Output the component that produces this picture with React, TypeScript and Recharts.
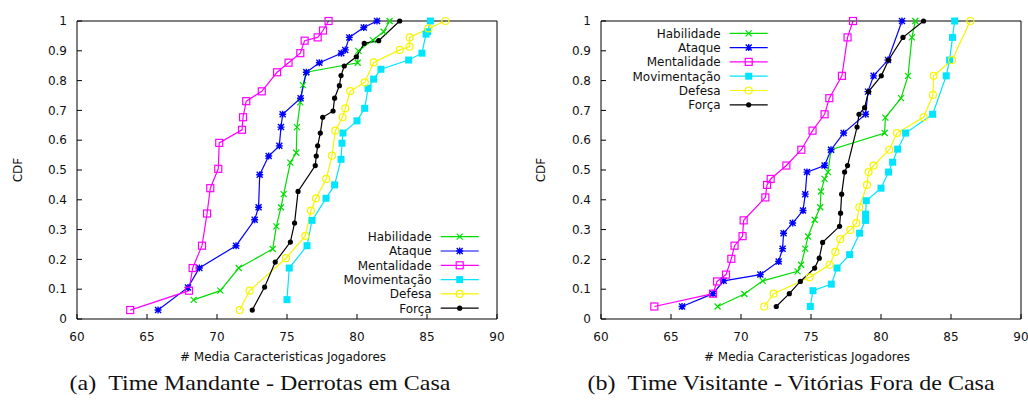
import React from "react";
import { LineChart, Line, XAxis, YAxis } from "recharts";

// ---- data ----
const xTicks = [60, 65, 70, 75, 80, 85, 90];
const yTicks = [0, 0.1, 0.2, 0.3, 0.4, 0.5, 0.6, 0.7, 0.8, 0.9, 1];
const seriesNames = ["Habilidade", "Ataque", "Mentalidade", "Movimentação", "Defesa", "Força"];
const xLabel = "# Media Caracteristicas Jogadores";
const yLabel = "CDF";
const captions = ["(a)\u00a0\u00a0Time Mandante - Derrotas em Casa", "(b)\u00a0\u00a0Time Visitante - Vitórias Fora de Casa"];

// (a) home team, home losses: [media, cdf]
const habilidadeA = [[68.33, 0.064], [70.24, 0.095], [71.55, 0.171], [73.98, 0.235], [74.24, 0.311], [74.57, 0.375], [74.76, 0.419], [75.24, 0.525], [75.66, 0.558], [75.71, 0.644], [75.95, 0.727], [76.14, 0.785], [76.38, 0.828], [80.05, 0.86], [80.1, 0.9], [81.14, 0.936], [81.9, 0.964], [82.33, 1.0]];
const ataqueA = [[65.79, 0.03], [67.93, 0.106], [68.74, 0.171], [71.36, 0.246], [72.69, 0.333], [72.97, 0.375], [73.05, 0.484], [73.69, 0.547], [74.45, 0.581], [74.57, 0.644], [74.69, 0.687], [75.97, 0.741], [76.38, 0.828], [77.31, 0.86], [78.88, 0.892], [79.16, 0.903], [79.45, 0.945], [80.48, 0.978], [81.43, 1.0]];
const mentalidadeA = [[63.8, 0.03], [68.0, 0.095], [68.26, 0.171], [68.93, 0.246], [69.29, 0.354], [69.52, 0.439], [70.09, 0.504], [70.16, 0.591], [71.79, 0.635], [71.86, 0.677], [72.09, 0.731], [73.2, 0.764], [74.29, 0.828], [75.11, 0.86], [75.95, 0.892], [76.26, 0.934], [77.19, 0.945], [77.57, 0.968], [77.97, 1.0]];
const movimentacaoA = [[75.0, 0.065], [75.16, 0.171], [76.43, 0.246], [76.79, 0.331], [77.79, 0.405], [78.4, 0.45], [78.86, 0.536], [78.93, 0.59], [79.0, 0.624], [80.0, 0.665], [80.55, 0.707], [80.79, 0.774], [81.19, 0.805], [81.71, 0.838], [83.69, 0.869], [84.64, 0.892], [84.93, 0.956], [85.05, 0.964], [85.24, 1.0]];
const defesaA = [[71.62, 0.03], [72.33, 0.095], [74.93, 0.204], [76.31, 0.279], [76.71, 0.364], [77.07, 0.405], [77.81, 0.47], [78.21, 0.548], [78.45, 0.632], [78.97, 0.677], [79.16, 0.707], [79.52, 0.765], [80.55, 0.794], [81.19, 0.861], [83.05, 0.903], [83.76, 0.914], [83.76, 0.945], [85.11, 0.975], [86.31, 1.0]];
const forcaA = [[72.52, 0.03], [73.4, 0.107], [74.16, 0.191], [75.24, 0.258], [75.54, 0.322], [75.79, 0.428], [77.02, 0.515], [77.09, 0.547], [77.19, 0.581], [77.38, 0.624], [77.55, 0.677], [78.29, 0.698], [78.4, 0.741], [78.74, 0.783], [78.86, 0.817], [79.09, 0.849], [79.95, 0.88], [80.52, 0.925], [81.55, 0.934], [83.05, 1.0]];

// (b) away team, away wins
const habilidadeB = [[68.33, 0.042], [70.24, 0.084], [71.55, 0.128], [74.04, 0.16], [74.29, 0.182], [74.59, 0.236], [74.79, 0.277], [75.26, 0.333], [75.66, 0.375], [75.71, 0.428], [75.97, 0.47], [76.21, 0.493], [76.43, 0.568], [80.26, 0.624], [80.31, 0.676], [81.43, 0.741], [81.93, 0.816], [82.21, 0.945], [82.45, 1.0]];
const ataqueB = [[65.79, 0.042], [68.0, 0.085], [68.76, 0.128], [71.38, 0.149], [72.69, 0.193], [72.97, 0.236], [73.04, 0.288], [73.69, 0.322], [74.43, 0.364], [74.59, 0.419], [74.71, 0.493], [75.97, 0.515], [76.43, 0.568], [77.33, 0.624], [78.9, 0.687], [79.07, 0.763], [79.47, 0.816], [80.5, 0.869], [81.5, 1.0]];
const mentalidadeB = [[63.81, 0.042], [68.0, 0.085], [68.29, 0.126], [68.93, 0.149], [69.31, 0.202], [69.54, 0.246], [70.11, 0.278], [70.19, 0.331], [71.74, 0.408], [71.86, 0.45], [72.12, 0.47], [73.24, 0.515], [74.31, 0.568], [75.11, 0.632], [75.97, 0.687], [76.31, 0.741], [77.21, 0.816], [77.61, 0.945], [78.0, 1.0]];
const movimentacaoB = [[74.95, 0.042], [75.14, 0.095], [76.45, 0.117], [76.86, 0.171], [77.76, 0.216], [78.47, 0.288], [78.9, 0.331], [78.9, 0.352], [78.95, 0.397], [80.0, 0.439], [80.54, 0.493], [80.83, 0.526], [81.19, 0.57], [81.76, 0.624], [83.69, 0.687], [84.66, 0.816], [84.9, 0.869], [85.11, 0.945], [85.26, 1.0]];
const defesaB = [[71.66, 0.042], [72.33, 0.085], [74.9, 0.14], [76.33, 0.182], [76.74, 0.225], [77.09, 0.268], [77.81, 0.299], [78.24, 0.322], [78.45, 0.375], [79.0, 0.45], [79.11, 0.493], [79.47, 0.515], [80.59, 0.568], [81.14, 0.624], [83.04, 0.677], [83.71, 0.752], [83.76, 0.816], [85.07, 0.869], [86.38, 1.0]];
const forcaB = [[72.52, 0.042], [73.45, 0.085], [74.24, 0.126], [75.26, 0.171], [75.59, 0.204], [75.83, 0.257], [77.04, 0.311], [77.11, 0.355], [77.19, 0.419], [77.4, 0.493], [77.61, 0.515], [78.29, 0.644], [78.43, 0.687], [78.83, 0.709], [79.11, 0.763], [80.02, 0.816], [80.54, 0.869], [81.57, 0.945], [83.04, 1.0]];

const panelA = [habilidadeA, ataqueA, mentalidadeA, movimentacaoA, defesaA, forcaA];
const panelB = [habilidadeB, ataqueB, mentalidadeB, movimentacaoB, defesaB, forcaB];

// ---- styles ----
const colors = ["#00dd00", "#0000ff", "#ff00ff", "#00e5ff", "#f5f500", "#000000"];
const shapes = ["cross", "star", "square", "filledSquare", "circle", "dot"];
const sans = "DejaVu Sans";
const tickStyle = { fill: "#111", fontSize: 12, fontFamily: sans };

function Marker({ shape, color, cx, cy }: any) {
  if (cx == null || cy == null) return null;
  const s = 3;
  switch (shape) {
    case "cross":
      return <path d={`M${cx - s},${cy - s}L${cx + s},${cy + s}M${cx - s},${cy + s}L${cx + s},${cy - s}`} stroke={color} strokeWidth={1.2} fill="none" />;
    case "star":
      return (
        <path
          d={`M${cx - s},${cy - s}L${cx + s},${cy + s}M${cx - s},${cy + s}L${cx + s},${cy - s}M${cx - 3.5},${cy}L${cx + 3.5},${cy}M${cx},${cy - 3.5}L${cx},${cy + 3.5}`}
          stroke={color}
          strokeWidth={1.4}
          fill="none"
        />
      );
    case "square":
      return <rect x={cx - 3.5} y={cy - 3.5} width={7} height={7} fill="none" stroke={color} strokeWidth={1.2} />;
    case "filledSquare":
      return <rect x={cx - 3.5} y={cy - 3.5} width={7} height={7} fill={color} stroke="none" />;
    case "circle":
      return <circle cx={cx} cy={cy} r={3.5} fill="none" stroke={color} strokeWidth={1.2} />;
    default:
      return <circle cx={cx} cy={cy} r={2.6} fill={color} />;
  }
}

const makeDot = (shape: string, color: string) => (p: any) => (
  <Marker key={p.key ?? p.index} shape={shape} color={color} cx={p.cx} cy={p.cy} />
);

function CdfPanel({ series, width, yAxisWidth, marginRight, yLabelX }: any) {
  const height = 368;
  return (
    <LineChart width={width} height={height} margin={{ top: 20, right: marginRight, bottom: 0, left: 0 }}>
      <XAxis
        type="number"
        dataKey="x"
        domain={[60, 90]}
        ticks={xTicks}
        allowDataOverflow
        height={49}
        stroke="#000"
        tickSize={-5}
        tickMargin={18}
        tick={tickStyle}
        label={(p: any) => {
          const vb = p.viewBox;
          return (
            <text x={vb.x + vb.width / 2 - 4} y={vb.y + 42} textAnchor="middle" fontFamily={sans} fontSize={12} fill="#111">
              {xLabel}
            </text>
          );
        }}
      />
      <XAxis xAxisId="top" orientation="top" type="number" dataKey="x" domain={[60, 90]} ticks={xTicks} height={1} stroke="#000" tickSize={-5} tick={false} />
      <YAxis
        type="number"
        domain={[0, 1]}
        ticks={yTicks}
        width={yAxisWidth}
        stroke="#000"
        tickSize={-5}
        tickMargin={15}
        tick={tickStyle}
        label={(p: any) => {
          const vb = p.viewBox;
          const cy = vb.y + vb.height / 2;
          return (
            <text x={yLabelX} y={cy} transform={`rotate(-90, ${yLabelX}, ${cy})`} textAnchor="middle" fontFamily={sans} fontSize={12} fill="#111">
              {yLabel}
            </text>
          );
        }}
      />
      <YAxis yAxisId="right" orientation="right" type="number" domain={[0, 1]} ticks={yTicks} width={1} stroke="#000" tickSize={-5} tick={false} />
      {series.map((pts: number[][], i: number) => (
        <Line
          key={seriesNames[i]}
          name={seriesNames[i]}
          data={pts.map(([x, y]) => ({ x, y }))}
          dataKey="y"
          type="linear"
          stroke={colors[i]}
          strokeWidth={1.2}
          dot={makeDot(shapes[i], colors[i])}
          activeDot={false}
          isAnimationActive={false}
        />
      ))}
    </LineChart>
  );
}

function LegendBox({ textRight, top }: any) {
  return (
    <g>
      {seriesNames.map((name, i) => {
        const y = top + i * 14.3;
        return (
          <g key={name}>
            <text x={textRight} y={y + 4.3} textAnchor="end" fontFamily={sans} fontSize={12} fill="#111">
              {name}
            </text>
            <line x1={textRight + 9} x2={textRight + 47} y1={y} y2={y} stroke={colors[i]} strokeWidth={1.2} />
            <Marker shape={shapes[i]} color={colors[i]} cx={textRight + 28} cy={y} />
          </g>
        );
      })}
    </g>
  );
}

export default function App() {
  return (
    <div style={{ position: "absolute", left: 0, top: 0, width: 1028, height: 405, background: "#fff", overflow: "hidden" }}>
      <div style={{ position: "absolute", left: 0, top: 0 }}>
        <CdfPanel series={panelA} width={514} yAxisWidth={77} marginRight={16} yLabelX={22} />
      </div>
      <div style={{ position: "absolute", left: 520, top: 0 }}>
        <CdfPanel series={panelB} width={508} yAxisWidth={81} marginRight={6} yLabelX={25} />
      </div>
      <svg width={1028} height={405} style={{ position: "absolute", left: 0, top: 0, pointerEvents: "none" }}>
        <LegendBox textRight={431.7} top={236.7} />
        <LegendBox textRight={720.7} top={33.3} />
        {captions.map((c, i) => (
          <text
            key={c}
            transform={`translate(${i === 0 ? 260 : 791}, 390) scale(1.2, 1)`}
            textAnchor="middle"
            fontFamily="Liberation Serif"
            fontSize={20}
            fill="#111"
            style={{ whiteSpace: "pre" }}
          >
            {c}
          </text>
        ))}
      </svg>
    </div>
  );
}
